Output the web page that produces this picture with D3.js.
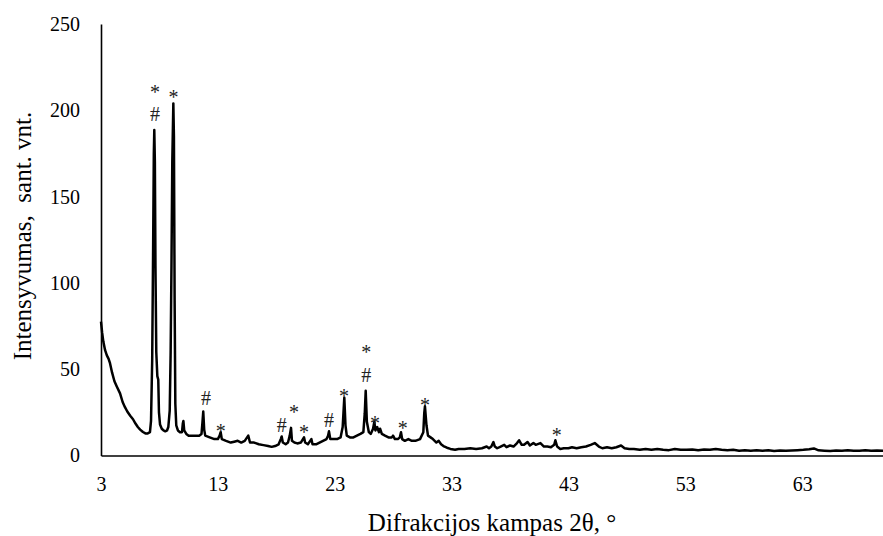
<!DOCTYPE html>
<html>
<head>
<meta charset="utf-8">
<script src="https://cdn.jsdelivr.net/npm/d3@7"></script>
<style>
body { margin: 0; background: #fff; }
text { font-family: "Liberation Serif", "Times New Roman", serif; }
</style>
</head>
<body>
<div id="chart"></div>
<script>
// XRD pattern: diffraction angle 2theta (deg) and intensity (a.u.)
var twoTheta = [
3.0, 3.1, 3.2, 3.35, 3.5, 3.65, 3.77, 3.95, 4.15, 4.35, 4.63, 4.85, 5.05, 5.25, 5.5, 5.74, 5.95, 6.15, 6.35, 6.59,
6.8, 7.0, 7.19, 7.28, 7.38, 7.46, 7.52, 7.56, 7.61, 7.66, 7.73, 7.82, 7.9, 7.96, 8.05, 8.2, 8.35, 8.5, 8.65, 8.76,
8.88, 8.96, 9.03, 9.1, 9.19, 9.24, 9.3, 9.36, 9.44, 9.58, 9.76, 9.93, 10.0, 10.05, 10.12, 10.3, 10.5, 10.8, 11.1, 11.4,
11.6, 11.68, 11.75, 11.83, 11.92, 12.3, 12.7, 13.0, 13.15, 13.24, 13.34, 13.7, 14.1, 14.4, 14.7, 15.0, 15.3, 15.5, 15.6, 15.75,
16.1, 16.5, 16.9, 17.3, 17.6, 17.9, 18.2, 18.38, 18.46, 18.56, 18.8, 19.0, 19.15, 19.26, 19.34, 19.55, 19.8, 20.1, 20.28, 20.37,
20.47, 20.7, 20.9, 21.0, 21.1, 21.4, 21.7, 22.0, 22.3, 22.43, 22.51, 22.62, 22.9, 23.2, 23.5, 23.68, 23.77, 23.82, 23.92, 24.03,
24.3, 24.6, 24.9, 25.2, 25.45, 25.57, 25.65, 25.75, 25.92, 26.08, 26.28, 26.39, 26.48, 26.63, 26.78, 26.88, 27.03, 27.3, 27.6, 27.88,
27.99, 28.15, 28.4, 28.57, 28.67, 28.77, 29.0, 29.3, 29.6, 29.9, 30.3, 30.58, 30.66, 30.72, 30.85, 30.98, 31.2, 31.4, 31.7, 31.9,
32.1, 32.3, 32.6, 32.9, 33.3, 33.6, 34.1, 34.6, 35.1, 35.6, 36.0, 36.2, 36.4, 36.58, 36.7, 36.9, 37.2, 37.5, 37.7, 38.0,
38.3, 38.6, 38.78, 39.0, 39.2, 39.5, 39.7, 40.0, 40.2, 40.6, 40.9, 41.2, 41.5, 41.78, 41.88, 42.03, 42.3, 42.6, 43.0, 43.3,
43.7, 44.1, 44.5, 44.9, 45.25, 45.6, 45.9, 46.3, 46.7, 47.1, 47.5, 47.8, 48.2, 48.6, 49.1, 49.6, 50.1, 50.6, 51.1, 51.6,
52.1, 52.6, 53.1, 53.6, 54.1, 54.6, 55.1, 55.6, 56.1, 56.6, 57.1, 57.6, 58.1, 58.6, 59.1, 59.6, 60.1, 60.6, 61.1, 61.6,
62.1, 62.6, 63.1, 63.6, 64.0, 64.4, 64.9, 65.4, 65.9, 66.4, 66.9, 67.4, 67.9, 68.4, 68.9, 69.4, 70.0
];
var intensity = [
77.5, 71, 66, 61, 58, 56, 53.5, 48, 43, 40, 36, 31, 28, 25.5, 23, 21, 18.5, 16.5, 15, 13.6,
12.8, 12.8, 13.5, 20, 55, 120, 175, 188.6, 170, 110, 60, 46, 44, 25, 18, 15.5, 14.5, 14, 14.5, 16.5,
26, 60, 110, 170, 204, 185, 90, 30, 17.5, 14.5, 13.5, 13.5, 18.5, 20, 14.5, 12.5, 11.5, 11.5, 11.5, 11.5,
12.5, 19, 25.5, 15, 11.5, 10.5, 9.5, 9.5, 11.5, 13.5, 9.5, 8.5, 7.5, 8, 8.5, 7.5, 8.5, 10.5, 11.5, 7.5,
7.5, 6.5, 6, 5.5, 5, 5.5, 6.5, 9.5, 11, 7.5, 6.5, 7.5, 11.5, 16, 8.5, 7.5, 7, 7.5, 9.5, 10.5,
7.5, 6.5, 8.5, 9.5, 6.5, 6.5, 7.5, 8.5, 9.5, 11.5, 14, 9.5, 9.5, 9.5, 10.5, 16.5, 27.5, 33.5, 17.5, 11.5,
10.5, 10.5, 11.5, 12.5, 13.5, 24.5, 37.5, 19.5, 13.5, 12.5, 15.5, 19.5, 14.5, 16.5, 13.5, 15.5, 12.5, 11.5, 10.5, 10.5,
11.5, 9.5, 9.5, 10.5, 13.5, 9.5, 8.5, 9.5, 8.5, 8.5, 9.5, 13.5, 24.5, 28.5, 17.5, 11.5, 10.5, 9.5, 7.5, 8.5,
6.5, 5.5, 4.5, 3.8, 3.3, 3.8, 3.8, 4.2, 3.8, 4.2, 5.2, 4.2, 5.2, 7.8, 5.2, 4.2, 5.2, 6.2, 4.8, 5.8,
5.2, 7.2, 8.8, 6.2, 6.2, 7.8, 5.8, 7.2, 6.2, 7.2, 5.2, 5.2, 4.8, 6.2, 8.8, 5.2, 3.8, 4.2, 4.2, 4.8,
4.2, 4.8, 5.2, 6.2, 7.2, 5.2, 4.2, 4.8, 4.2, 4.8, 5.8, 4.2, 3.8, 3.8, 3.3, 3.8, 3.3, 3.8, 3.3, 3.1,
3.8, 3.3, 3.3, 3.5, 3.1, 3.5, 3.3, 3.8, 3.3, 3.0, 3.3, 2.8, 3.1, 2.8, 3.0, 2.7, 3.0, 2.6, 2.9, 2.7,
2.9, 3.1, 3.3, 3.6, 4.1, 3.0, 2.8, 2.6, 2.9, 2.7, 3.0, 2.8, 2.8, 3.0, 2.7, 2.9, 2.8
];

// phase marks above the peaks (# and *), placed at 2theta / intensity of the symbol centre
var markX = [7.62, 7.62, 9.2, 11.98, 13.24, 18.46, 19.51, 20.37, 22.51, 23.79, 25.7, 25.7, 26.45, 28.82, 30.72, 41.99];
var markY = [212, 197.5, 208.9, 33.3, 15.4, 17.7, 26.4, 15.2, 20.6, 36.0, 46.6, 61.6, 20.0, 17.1, 30.6, 13.4];
var markSymbol = ["*", "#", "*", "#", "*", "#", "*", "*", "#", "*", "#", "*", "*", "*", "*", "*"];

var xTicks = [3, 13, 23, 33, 43, 53, 63];
var yTicks = [0, 50, 100, 150, 200, 250];

var w = 883;
var h = 536;

var svg = d3.select("#chart")
			.append("svg")
			.attr("width", w)
			.attr("height", h);

var xScale = d3.scaleLinear()
				.domain([3, 70])
				.range([101, 884]);

var yScale = d3.scaleLinear()
				.domain([0, 250])
				.range([455.5, 24]);

var data = twoTheta.map(function(t, i) { return [t, intensity[i]]; });

var line = d3.line()
			.x(function(d) { return xScale(d[0]); })
			.y(function(d) { return yScale(d[1]); });

svg.append("path")
	.datum(data)
	.attr("d", line)
	.attr("fill", "none")
	.attr("stroke", "#000")
	.attr("stroke-width", 2.5)
	.attr("stroke-linejoin", "round");

// axes (no tick marks, just the lines and labels)
var xAxis = svg.append("g")
			.attr("transform", "translate(0," + yScale(0) + ")")
			.call(d3.axisBottom(xScale).tickValues(xTicks).tickSize(0).tickPadding(21).tickFormat(d3.format("d")));

var yAxis = svg.append("g")
			.attr("transform", "translate(" + xScale(3) + ",0)")
			.call(d3.axisLeft(yScale).tickValues(yTicks).tickSize(0).tickPadding(21).tickFormat(d3.format("d")));

svg.selectAll(".domain")
	.attr("stroke", "#000")
	.attr("stroke-width", 1.6);

svg.selectAll(".tick text")
	.style("font-family", "'Liberation Serif', 'Times New Roman', serif")
	.style("font-size", "20px")
	.attr("fill", "#000");

// peak marks
svg.selectAll(".mark")
	.data(markX)
	.enter()
	.append("text")
	.attr("class", "mark")
	.attr("x", function(d) { return xScale(d); })
	.attr("y", function(d, i) { return yScale(markY[i]); })
	.attr("dy", function(d, i) { return markSymbol[i] == "*" ? "0.47em" : "0.34em"; })
	.attr("text-anchor", "middle")
	.style("font-size", "20px")
	.attr("fill", "#222")
	.text(function(d, i) { return markSymbol[i]; });

// axis titles
svg.append("text")
	.attr("x", 492)
	.attr("y", 531)
	.attr("text-anchor", "middle")
	.style("font-size", "25px")
	.text("Difrakcijos kampas 2θ, °");

svg.append("text")
	.attr("transform", "translate(31,236) rotate(-90)")
	.attr("text-anchor", "middle")
	.style("font-size", "25px")
	.style("white-space", "pre")
	.text("Intensyvumas,  sant. vnt.");
</script>
</body>
</html>
